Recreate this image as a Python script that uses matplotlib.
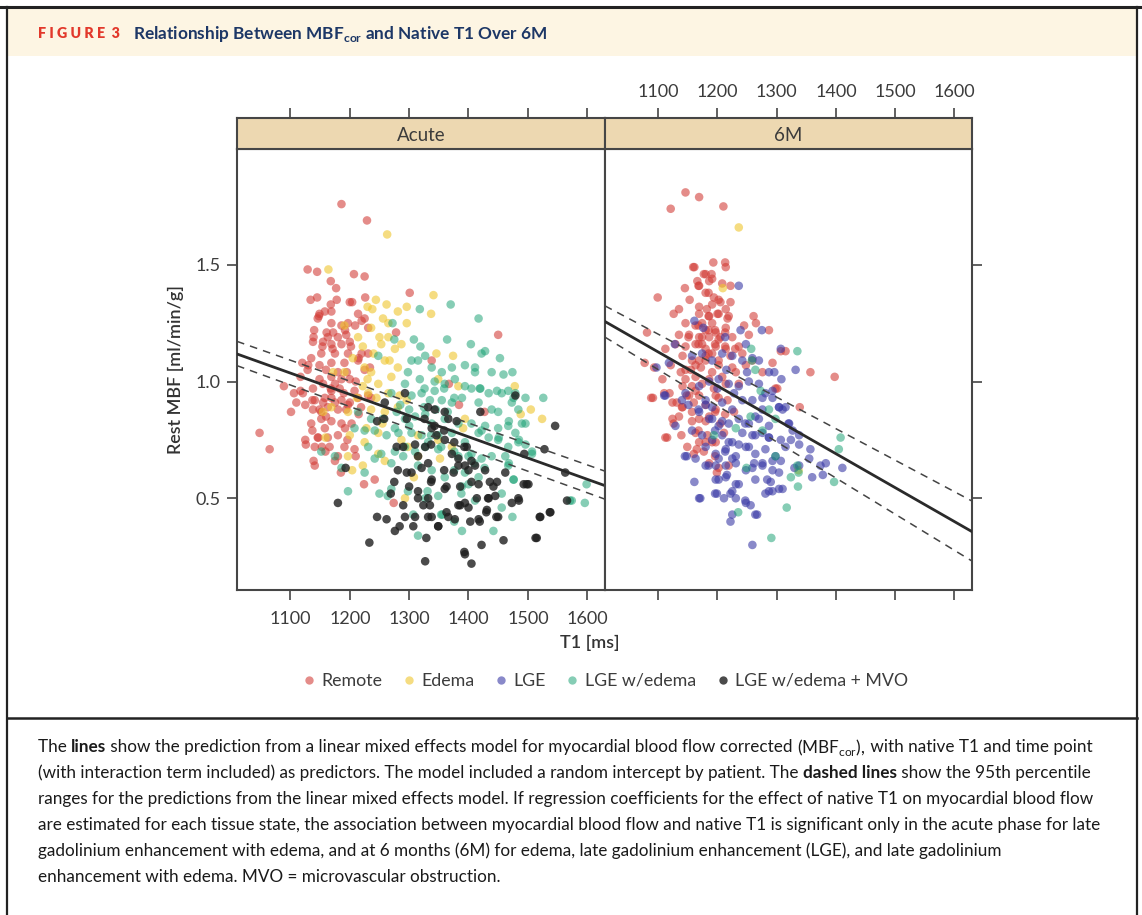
import numpy as np
import matplotlib
matplotlib.use("Agg")
import matplotlib.pyplot as plt
from matplotlib.lines import Line2D
from matplotlib.patches import Rectangle

plt.rcParams['font.family'] = ['Lato', 'DejaVu Sans']
plt.rcParams['mathtext.fontset'] = 'custom'
plt.rcParams['mathtext.rm'] = 'Lato'
plt.rcParams['mathtext.bf'] = 'Lato:bold'

# ---- data (T1 [ms], rest MBF [ml/min/g]) ----
remote_acute = [
    (1186, 1.76), (1229, 1.69), (1129, 1.48), (1145, 1.47), (1207, 1.46), (1225, 1.45), (1168, 1.43),
    (1177, 1.40), (1134, 1.35), (1145, 1.36), (1178, 1.35), (1200, 1.34), (1204, 1.34), (1226, 1.36),
    (1301, 1.38), (1149, 1.29), (1169, 1.30), (1214, 1.29), (1148, 1.28), (1225, 1.27), (1169, 1.25),
    (1197, 1.25), (1209, 1.24), (1231, 1.23), (1140, 1.22), (1186, 1.24), (1278, 1.21), (1450, 1.20),
    (1139, 1.19), (1163, 1.19), (1180, 1.19), (1194, 1.20), (1138, 1.17), (1155, 1.17), (1169, 1.16),
    (1186, 1.16), (1200, 1.17), (1152, 1.12), (1175, 1.12), (1197, 1.12), (1220, 1.12), (1231, 1.12),
    (1120, 1.08), (1130, 1.07), (1149, 1.07), (1169, 1.08), (1191, 1.08), (1214, 1.09), (1338, 1.09),
    (1117, 1.02), (1149, 1.01), (1169, 1.02), (1186, 1.01), (1200, 1.01), (1089, 0.98), (1106, 0.95),
    (1121, 0.95), (1138, 0.97), (1155, 0.99), (1169, 0.96), (1183, 0.97), (1141, 0.92), (1155, 0.91),
    (1169, 0.93), (1186, 0.92), (1200, 0.91), (1214, 0.93), (1231, 0.94), (1138, 0.88), (1152, 0.87),
    (1163, 0.89), (1180, 0.88), (1194, 0.88), (1101, 0.87), (1135, 0.82), (1152, 0.84), (1169, 0.83),
    (1186, 0.82), (1203, 0.82), (1048, 0.78), (1065, 0.71), (1147, 0.76), (1163, 0.76), (1180, 0.77),
    (1196, 0.75), (1126, 0.73), (1141, 0.72), (1153, 0.72), (1166, 0.72), (1191, 0.72), (1208, 0.71),
    (1180, 0.68), (1141, 0.64), (1185, 0.61), (1224, 0.56), (1242, 0.58), (1274, 0.48), (1384, 0.90),
    (1367, 0.99), (1427, 0.87), (1160, 1.05), (1175, 0.99), (1190, 0.95), (1210, 1.00), (1160, 0.85),
    (1125, 0.90), (1215, 0.86), (1195, 1.04), (1135, 1.10), (1225, 1.05), (1110, 0.91), (1172, 1.21),
    (1158, 1.30), (1117, 0.96), (1137, 0.92), (1158, 0.93), (1175, 0.91), (1149, 0.88), (1158, 0.80),
    (1137, 0.79), (1192, 0.80), (1146, 0.76), (1125, 0.75), (1159, 0.70), (1139, 0.66), (1175, 0.66),
    (1210, 0.68), (1197, 0.90), (1219, 0.89), (1236, 0.93), (1168, 0.97), (1208, 0.96), (1154, 1.15),
    (1171, 1.14), (1202, 1.15), (1215, 1.10), (1129, 1.05), (1180, 1.04), (1234, 1.06), (1161, 1.21),
    (1146, 1.27), (1192, 1.22), (1220, 1.26), (1168, 1.33),
]
edema_acute = [
    (1263, 1.63), (1164, 1.48), (1244, 1.35), (1341, 1.37), (1262, 1.33), (1296, 1.32), (1337, 1.29),
    (1230, 1.32), (1238, 1.31), (1256, 1.27), (1281, 1.30), (1265, 1.25), (1296, 1.25), (1250, 1.19),
    (1265, 1.19), (1287, 1.16), (1191, 1.24), (1236, 1.23), (1214, 1.19), (1222, 1.15), (1253, 1.16),
    (1276, 1.14), (1346, 1.12), (1374, 1.11), (1172, 1.04), (1191, 1.04), (1225, 1.06), (1236, 1.04),
    (1259, 1.09), (1267, 1.09), (1281, 1.06), (1248, 0.99), (1222, 0.98), (1231, 0.95), (1265, 0.95),
    (1284, 0.94), (1296, 0.92), (1349, 1.01), (1383, 0.98), (1478, 0.98), (1155, 0.87), (1169, 0.89),
    (1197, 0.87), (1236, 0.88), (1259, 0.87), (1281, 0.89), (1394, 0.84), (1488, 0.86), (1505, 0.88),
    (1524, 0.84), (1159, 0.76), (1200, 0.77), (1225, 0.74), (1248, 0.78), (1287, 0.75), (1298, 0.72),
    (1315, 0.77), (1349, 0.75), (1372, 0.72), (1197, 0.68), (1222, 0.64), (1248, 0.69), (1259, 0.66),
    (1315, 0.68), (1352, 0.67), (1204, 0.62), (1308, 0.59), (1293, 0.50), (1391, 0.80), (1230, 1.01),
    (1245, 0.93), (1212, 0.93), (1270, 1.02), (1240, 1.12), (1205, 1.10), (1255, 0.82), (1228, 0.80),
]
lge_edema_acute = [
    (1370, 1.33), (1318, 1.31), (1417, 1.27), (1272, 1.25), (1275, 1.18), (1308, 1.18), (1319, 1.15),
    (1364, 1.18), (1404, 1.16), (1422, 1.12), (1428, 1.13), (1453, 1.10), (1248, 1.11), (1304, 1.09),
    (1315, 1.09), (1327, 1.11), (1338, 1.06), (1355, 1.04), (1372, 1.06), (1394, 1.07), (1411, 1.06),
    (1411, 1.04), (1439, 1.04), (1459, 1.03), (1474, 1.04), (1298, 1.04), (1318, 1.01), (1343, 1.00),
    (1360, 0.99), (1377, 1.01), (1394, 0.98), (1420, 0.97), (1434, 0.95), (1448, 0.96), (1467, 0.96),
    (1479, 0.95), (1496, 0.93), (1526, 0.93), (1270, 0.95), (1293, 0.99), (1304, 0.94), (1321, 0.95),
    (1335, 0.92), (1355, 0.92), (1372, 0.91), (1389, 0.93), (1417, 0.91), (1439, 0.88), (1450, 0.87),
    (1473, 0.91), (1484, 0.88), (1496, 0.82), (1214, 0.87), (1236, 0.84), (1256, 0.84), (1279, 0.87),
    (1293, 0.84), (1310, 0.85), (1327, 0.86), (1338, 0.82), (1360, 0.84), (1383, 0.82), (1405, 0.82),
    (1428, 0.81), (1450, 0.80), (1467, 0.81), (1479, 0.78), (1208, 0.80), (1225, 0.79), (1242, 0.79),
    (1262, 0.77), (1276, 0.80), (1304, 0.78), (1321, 0.77), (1332, 0.74), (1349, 0.77), (1372, 0.78),
    (1394, 0.74), (1417, 0.78), (1434, 0.76), (1450, 0.75), (1467, 0.72), (1484, 0.74), (1496, 0.73),
    (1231, 0.72), (1253, 0.69), (1276, 0.70), (1293, 0.72), (1310, 0.70), (1327, 0.72), (1349, 0.71),
    (1383, 0.68), (1405, 0.69), (1422, 0.67), (1439, 0.68), (1462, 0.68), (1507, 0.69), (1152, 0.70),
    (1175, 0.68), (1186, 0.63), (1225, 0.61), (1242, 0.67), (1270, 0.65), (1315, 0.64), (1338, 0.62),
    (1360, 0.59), (1394, 0.61), (1417, 0.59), (1467, 0.64), (1476, 0.58), (1197, 0.53), (1250, 0.52),
    (1270, 0.54), (1298, 0.53), (1327, 0.50), (1349, 0.51), (1389, 0.55), (1411, 0.49), (1456, 0.46),
    (1307, 0.43), (1315, 0.34), (1356, 0.43), (1389, 0.36), (1442, 0.36), (1474, 0.42), (1574, 0.49),
    (1599, 0.56), (1596, 0.48), (1331, 0.53), (1264, 0.51), (1326, 0.97), (1343, 0.96), (1359, 0.97),
    (1405, 0.97), (1419, 0.97), (1456, 0.95), (1476, 0.93), (1376, 0.93), (1468, 0.83), (1490, 0.82),
    (1422, 0.79), (1451, 0.76), (1485, 0.75), (1337, 0.77), (1354, 0.72), (1376, 0.70), (1400, 0.68),
    (1410, 0.65), (1427, 0.63), (1468, 0.65), (1376, 0.62), (1400, 0.56), (1388, 0.52), (1354, 0.43),
    (1376, 0.40), (1456, 0.52), (1476, 0.58), (1571, 0.49), (1507, 0.70), (1285, 0.90), (1300, 0.88),
    (1325, 0.89), (1345, 0.88), (1365, 0.87), (1282, 0.78), (1300, 0.81), (1290, 0.68),
]
mvo_acute = [
    (1180, 0.48), (1193, 0.63), (1233, 0.31), (1246, 0.42), (1262, 0.41), (1246, 0.83), (1259, 0.91),
    (1258, 0.84), (1269, 0.52), (1275, 0.57), (1276, 0.36), (1284, 0.38), (1290, 0.72), (1279, 0.72),
    (1293, 0.95), (1293, 0.42), (1296, 0.61), (1307, 0.38), (1310, 0.42), (1310, 0.73), (1315, 0.50),
    (1315, 0.53), (1321, 0.63), (1324, 0.47), (1327, 0.23), (1329, 0.33), (1332, 0.42), (1335, 0.47),
    (1338, 0.42), (1338, 0.58), (1332, 0.89), (1343, 0.88), (1349, 0.38), (1360, 0.87), (1360, 0.54),
    (1363, 0.44), (1366, 0.84), (1372, 0.69), (1375, 0.61), (1377, 0.41), (1383, 0.64), (1386, 0.55),
    (1386, 0.47), (1394, 0.26), (1394, 0.48), (1397, 0.72), (1400, 0.62), (1403, 0.40), (1405, 0.57),
    (1405, 0.22), (1411, 0.64), (1414, 0.50), (1417, 0.41), (1420, 0.87), (1422, 0.30), (1428, 0.62),
    (1431, 0.45), (1434, 0.50), (1436, 0.57), (1445, 0.51), (1448, 0.57), (1450, 0.42), (1459, 0.32),
    (1462, 0.61), (1473, 0.48), (1479, 0.94), (1484, 0.50), (1493, 0.56), (1494, 0.69), (1501, 0.56),
    (1513, 0.33), (1521, 0.42), (1528, 0.71), (1538, 0.44), (1546, 0.81), (1563, 0.61), (1566, 0.49),
    (1346, 0.77), (1327, 0.72), (1304, 0.61), (1296, 0.84), (1315, 0.68), (1281, 0.62), (1394, 0.64),
    (1360, 0.75), (1338, 0.80), (1326, 0.84), (1343, 0.81), (1359, 0.79), (1380, 0.83), (1376, 0.74),
    (1393, 0.72), (1383, 0.67), (1405, 0.66), (1337, 0.73), (1332, 0.65), (1359, 0.62), (1337, 0.57),
    (1363, 0.55), (1417, 0.56), (1442, 0.55), (1498, 0.56), (1433, 0.50), (1383, 0.47), (1400, 0.46),
    (1332, 0.50), (1349, 0.38), (1366, 0.42), (1419, 0.40), (1447, 0.42), (1430, 0.44), (1393, 0.27),
    (1485, 0.49), (1520, 0.42), (1537, 0.44), (1515, 0.33), (1300, 0.55), (1290, 0.47),
]

remote_6m = [
    (1146, 1.81), (1169, 1.79), (1121, 1.74), (1210, 1.75), (1193, 1.51), (1213, 1.51), (1159, 1.49),
    (1214, 1.49), (1177, 1.46), (1190, 1.46), (1166, 1.43), (1186, 1.43), (1169, 1.41), (1145, 1.40),
    (1208, 1.42), (1222, 1.41), (1099, 1.36), (1153, 1.35), (1180, 1.38), (1194, 1.36), (1202, 1.35),
    (1169, 1.32), (1191, 1.33), (1214, 1.31), (1222, 1.34), (1126, 1.29), (1135, 1.31), (1169, 1.29),
    (1186, 1.28), (1200, 1.29), (1217, 1.27), (1261, 1.28), (1265, 1.25), (1245, 1.24), (1146, 1.25),
    (1163, 1.24), (1180, 1.22), (1197, 1.21), (1214, 1.23), (1287, 1.22), (1081, 1.21), (1135, 1.20),
    (1152, 1.20), (1169, 1.19), (1186, 1.19), (1202, 1.18), (1225, 1.19), (1253, 1.20), (1129, 1.16),
    (1146, 1.15), (1163, 1.16), (1180, 1.14), (1197, 1.15), (1214, 1.14), (1236, 1.15), (1112, 1.14),
    (1141, 1.11), (1157, 1.09), (1180, 1.11), (1202, 1.09), (1222, 1.11), (1242, 1.12), (1307, 1.13),
    (1315, 1.13), (1077, 1.08), (1093, 1.06), (1107, 1.01), (1121, 1.07), (1138, 1.04), (1155, 1.05),
    (1172, 1.06), (1191, 1.04), (1208, 1.02), (1231, 1.04), (1248, 1.07), (1293, 1.08), (1276, 1.04),
    (1357, 1.04), (1398, 1.02), (1088, 0.93), (1110, 0.95), (1119, 0.95), (1141, 0.98), (1157, 0.98),
    (1174, 0.99), (1194, 0.97), (1214, 0.99), (1236, 0.99), (1298, 0.97), (1124, 0.91), (1141, 0.89),
    (1160, 0.91), (1180, 0.90), (1197, 0.88), (1217, 0.92), (1124, 0.84), (1135, 0.85), (1157, 0.87),
    (1169, 0.84), (1186, 0.85), (1205, 0.82), (1228, 0.87), (1339, 0.89), (1112, 0.76), (1139, 0.77),
    (1163, 0.78), (1183, 0.77), (1197, 0.74), (1211, 0.78), (1169, 0.74), (1177, 0.70), (1196, 0.68),
    (1199, 0.61), (1219, 0.64), (1160, 0.69), (1149, 0.72), (1186, 0.65), (1174, 1.25), (1191, 1.25),
    (1174, 1.16), (1191, 1.12), (1169, 1.09), (1186, 1.01), (1169, 0.94), (1152, 0.94), (1197, 0.94),
    (1146, 1.01), (1091, 0.93), (1115, 0.76), (1126, 0.82), (1140, 0.89), (1131, 0.91), (1157, 0.83),
    (1165, 0.71), (1180, 0.74), (1168, 0.79), (1191, 0.74), (1202, 0.63), (1180, 0.83), (1196, 0.87),
    (1213, 0.86), (1202, 0.93), (1163, 0.96), (1148, 0.94), (1301, 0.97), (1161, 1.49), (1180, 1.46),
    (1191, 1.44), (1168, 1.41), (1185, 1.38), (1205, 1.34), (1182, 1.31), (1202, 1.29), (1185, 1.28),
    (1219, 1.28), (1168, 1.24), (1185, 1.22), (1196, 1.22), (1213, 1.21), (1151, 1.19), (1174, 1.19),
    (1205, 1.19), (1168, 1.16), (1196, 1.16), (1213, 1.15), (1230, 1.14), (1185, 1.12), (1163, 1.07),
    (1180, 1.09), (1202, 1.07), (1225, 1.06), (1259, 1.09), (1163, 1.02), (1146, 1.05),
]
edema_6m = [(1236, 1.66), (1209, 1.40), (1337, 0.62)]
lge_6m = [
    (1236, 1.41), (1161, 1.26), (1176, 1.23), (1239, 1.22), (1275, 1.22), (1213, 1.19), (1128, 1.16),
    (1248, 1.16), (1307, 1.14), (1097, 1.06), (1118, 1.08), (1157, 1.11), (1174, 1.12), (1191, 1.09),
    (1208, 1.12), (1225, 1.11), (1242, 1.09), (1259, 1.10), (1270, 1.09), (1287, 1.04), (1296, 1.04),
    (1308, 1.01), (1332, 1.05), (1110, 0.94), (1129, 0.81), (1146, 0.95), (1169, 0.98), (1186, 1.00),
    (1202, 1.01), (1219, 0.99), (1236, 0.98), (1253, 1.00), (1270, 0.99), (1281, 0.95), (1293, 0.93),
    (1304, 0.89), (1310, 0.88), (1180, 0.92), (1191, 0.89), (1208, 0.91), (1225, 0.88), (1242, 0.92),
    (1259, 0.92), (1276, 0.88), (1169, 0.87), (1186, 0.84), (1202, 0.81), (1219, 0.82), (1236, 0.84),
    (1253, 0.82), (1270, 0.84), (1287, 0.81), (1321, 0.82), (1338, 0.77), (1357, 0.71), (1374, 0.64),
    (1383, 0.65), (1411, 0.63), (1157, 0.79), (1174, 0.77), (1191, 0.75), (1208, 0.77), (1225, 0.74),
    (1242, 0.78), (1259, 0.77), (1276, 0.78), (1287, 0.76), (1307, 0.75), (1327, 0.79), (1180, 0.72),
    (1197, 0.69), (1214, 0.71), (1231, 0.68), (1248, 0.72), (1264, 0.69), (1281, 0.71), (1298, 0.68),
    (1315, 0.72), (1338, 0.73), (1145, 0.68), (1163, 0.67), (1180, 0.64), (1197, 0.64), (1214, 0.64),
    (1231, 0.65), (1248, 0.62), (1262, 0.65), (1276, 0.64), (1293, 0.62), (1307, 0.66), (1355, 0.67),
    (1378, 0.60), (1360, 0.59), (1161, 0.57), (1169, 0.50), (1197, 0.58), (1214, 0.59), (1231, 0.56),
    (1264, 0.58), (1284, 0.58), (1293, 0.53), (1310, 0.54), (1196, 0.52), (1211, 0.50), (1222, 0.52),
    (1231, 0.50), (1248, 0.48), (1256, 0.47), (1264, 0.43), (1225, 0.43), (1222, 0.40), (1259, 0.30),
    (1281, 0.52), (1330, 0.63), (1338, 0.64), (1112, 0.94), (1148, 0.68), (1171, 0.50), (1185, 0.64),
    (1202, 0.67), (1213, 0.70), (1225, 0.67), (1236, 0.73), (1253, 0.72), (1259, 0.63), (1276, 0.65),
    (1293, 0.66), (1304, 0.61), (1290, 0.57), (1202, 0.58), (1216, 0.60), (1236, 0.56), (1199, 0.52),
    (1225, 0.53), (1247, 0.49), (1267, 0.43), (1287, 0.53), (1304, 0.54), (1320, 0.82), (1324, 0.75),
    (1287, 0.76), (1264, 0.77), (1247, 0.82), (1219, 0.74), (1196, 0.79), (1180, 0.90), (1168, 0.88),
    (1151, 0.90), (1140, 0.92), (1208, 0.83), (1191, 0.84), (1293, 0.96), (1276, 0.93), (1264, 0.85),
    (1304, 0.89), (1315, 0.89), (1228, 0.95), (1250, 1.04), (1215, 1.05), (1200, 0.97),
]
lge_edema_6m = [
    (1257, 1.14), (1335, 1.13), (1258, 1.09), (1264, 1.05), (1273, 0.96), (1287, 0.88), (1298, 0.84),
    (1256, 0.85), (1231, 0.80), (1276, 0.79), (1298, 0.68), (1335, 0.64), (1337, 0.61), (1324, 0.59),
    (1336, 0.55), (1397, 0.57), (1408, 0.76), (1405, 0.71), (1317, 0.46), (1291, 0.33), (1235, 0.44),
    (1249, 0.63), (1194, 0.77),
]
mvo_6m = []

# model prediction and 95% range at the panel edges
fit_t1 = [1010, 1630]
acute_fit = [1.118, 0.554]
acute_lo = [1.068, 0.496]
acute_hi = [1.172, 0.616]
m6_fit = [1.257, 0.357]
m6_lo = [1.190, 0.231]
m6_hi = [1.324, 0.488]

panel_names = ["Acute", "6M"]
group_names = ["Remote", "Edema", "LGE", "LGE w/edema", "LGE w/edema + MVO"]
group_colors = ["#D23A34", "#EFC62E", "#3A3AA6", "#17A072", "#1E1E1E"]
group_alpha = [0.58, 0.6, 0.6, 0.52, 0.8]
x_ticks = [1100, 1200, 1300, 1400, 1500, 1600]
y_ticks = [0.5, 1.0, 1.5]

caption_lines = [
    [("The ", "normal"), ("lines", "bold"),
     (" show the prediction from a linear mixed effects model for myocardial blood flow corrected ", "normal"),
     (r"(MBF$_{\mathrm{cor}}$),", "math"), (" with native T1 and time point", "normal")],
    [("(with interaction term included) as predictors. The model included a random intercept by patient. The ", "normal"),
     ("dashed lines", "bold"), (" show the 95th percentile", "normal")],
    [("ranges for the predictions from the linear mixed effects model. If regression coefficients for the effect "
      "of native T1 on myocardial blood flow", "normal")],
    [("are estimated for each tissue state, the association between myocardial blood flow and native T1 is "
      "significant only in the acute phase for late", "normal")],
    [("gadolinium enhancement with edema, and at 6 months (6M) for edema, late gadolinium enhancement (LGE), "
      "and late gadolinium", "normal")],
    [("enhancement with edema. MVO = microvascular obstruction.", "normal")],
]

# ---- layout ----
W, H = 1142, 915
fig = plt.figure(figsize=(W / 100, H / 100), dpi=100)
fig.patch.set_facecolor("white")
fig.canvas.draw()
renderer = fig.canvas.get_renderer()


def box(x0, y0, x1, y1):
    return [x0 / W, 1 - y1 / H, (x1 - x0) / W, (y1 - y0) / H]


def fx(x):
    return x / W


def fy(y):
    return 1 - y / H


def text_width(text, size, **kw):
    t = fig.text(0, 0, text, fontsize=size, **kw)
    w = t.get_window_extent(renderer=renderer).width
    t.remove()
    return w


def fit_size(text, width_px, base=12, **kw):
    return base * width_px / text_width(text, base, **kw)


# frame, title band, separator
fig.add_artist(Rectangle((fx(7), fy(56)), fx(1137) - fx(7), fy(8) - fy(56), transform=fig.transFigure,
                         facecolor="#FDF5E3", edgecolor="none", zorder=0))
for (xa, ya, xb, yb, lw) in [(0, 7, 1142, 7, 2.2), (7, 7, 7, 915, 1.6), (1137, 7, 1137, 915, 1.6),
                             (7, 718, 1137, 718, 1.8)]:
    fig.add_artist(Line2D([fx(xa), fx(xb)], [fy(ya), fy(yb)], transform=fig.transFigure,
                          color="#222222", lw=lw))

fig_lab = "F I G U R E  3"
fs = fit_size(fig_lab, 82, fontweight="heavy")
fig.text(fx(38), fy(34), fig_lab, color="#E2382B", fontsize=fs, fontweight="heavy", va="center")
title = r"Relationship Between MBF$_{\mathbf{cor}}$ and Native T1 Over 6M"
fs = fit_size(title, 415, fontweight="bold")
fig.text(fx(133), fy(34), title, color="#1D3766", fontsize=fs, fontweight="bold", va="center")

panels = [
    (box(237, 149, 605, 590), box(237, 118, 605, 149),
     [remote_acute, edema_acute, [], lge_edema_acute, mvo_acute], acute_fit, acute_lo, acute_hi),
    (box(605, 149, 972, 590), box(605, 118, 972, 149),
     [remote_6m, edema_6m, lge_6m, lge_edema_6m, mvo_6m], m6_fit, m6_lo, m6_hi),
]
xlim = (1010, 1630)
ylim = (0.107, 1.996)
frame_col = "#464646"
text_col = "#3C3C3C"

for i, (pos, spos, groups, fit, lo, hi) in enumerate(panels):
    ax = fig.add_axes(pos)
    for pts, col, al in zip(groups, group_colors, group_alpha):
        if len(pts) == 0:
            continue
        arr = np.array(pts, dtype=float)
        ax.scatter(arr[:, 0], arr[:, 1], s=38, color=col, alpha=al, edgecolors="none", zorder=2)
    ax.plot(fit_t1, fit, color="#2A2A2A", lw=2.0, zorder=3)
    ax.plot(fit_t1, lo, color="#444444", lw=1.1, ls=(0, (5, 4)), zorder=3)
    ax.plot(fit_t1, hi, color="#444444", lw=1.1, ls=(0, (5, 4)), zorder=3)
    ax.set_xlim(xlim)
    ax.set_ylim(ylim)
    ax.set_xticks(x_ticks)
    ax.set_yticks(y_ticks)
    for sp in ax.spines.values():
        sp.set_color(frame_col)
        sp.set_linewidth(1.5)
    ax.tick_params(colors=frame_col, labelcolor=text_col, length=7, width=1.2, labelsize=13, pad=8)
    if i == 0:
        ax.tick_params(axis="x", bottom=True, labelbottom=True, top=False)
        ax.tick_params(axis="y", left=True, labelleft=True, right=False, pad=5)
        ax.set_yticklabels([f"{v:.1f}" for v in y_ticks])
        ax.set_ylabel("Rest MBF [ml/min/g]", fontsize=13, color="#333333", labelpad=8,
                      fontweight="semibold")
    else:
        ax.tick_params(axis="x", bottom=True, labelbottom=False, top=False)
        ax.tick_params(axis="y", left=False, labelleft=False, right=True, labelright=False)

    sax = fig.add_axes(spos)
    sax.set_facecolor("#EDD8B1")
    sax.set_xlim(xlim)
    sax.set_xticks(x_ticks)
    sax.set_yticks([])
    for sp in sax.spines.values():
        sp.set_color(frame_col)
        sp.set_linewidth(1.5)
    sax.tick_params(axis="x", bottom=False, labelbottom=False, top=True, labeltop=(i == 1),
                    colors=frame_col, labelcolor=text_col, length=7, width=1.2, labelsize=13, pad=6)
    sax.text(0.5, 0.45, panel_names[i], transform=sax.transAxes, ha="center", va="center",
             fontsize=13.5, color=text_col)

fig.text(fx(590), fy(643), "T1 [ms]", ha="center", va="center", fontsize=13, color="#333333",
         fontweight="semibold")

handles = [Line2D([], [], ls="none", marker="o", markersize=6, color=c, alpha=a, markeredgewidth=0)
           for c, a in zip(group_colors, group_alpha)]
fig.legend(handles, group_names, loc="center", bbox_to_anchor=(fx(604), fy(681)), ncol=5, frameon=False,
           fontsize=12.8, handletextpad=0.2, columnspacing=1.0, handlelength=1.0, labelcolor=text_col)

# caption with bold runs, sized so the first line spans the reference width
cap_fs = fit_size("The lines show the prediction from a linear mixed effects model for myocardial blood "
                  "flow corrected (MBFcor), with native T1 and time point", 1052)
line_y = [747, 773, 799, 825, 851, 877]
for runs, yy in zip(caption_lines, line_y):
    x = 38.0
    for txt, kind in runs:
        wt = "bold" if kind == "bold" else "normal"
        fig.text(fx(x), fy(yy), txt, fontsize=cap_fs, fontweight=wt, color="#1a1a1a", va="center")
        if kind == "math":
            x += text_width(txt, cap_fs)
        else:
            # advance width measured between two marker glyphs so edge spaces count
            x += text_width("|" + txt + "|", cap_fs, fontweight=wt) - text_width("||", cap_fs, fontweight=wt)

fig.savefig("out.png", dpi=100)
